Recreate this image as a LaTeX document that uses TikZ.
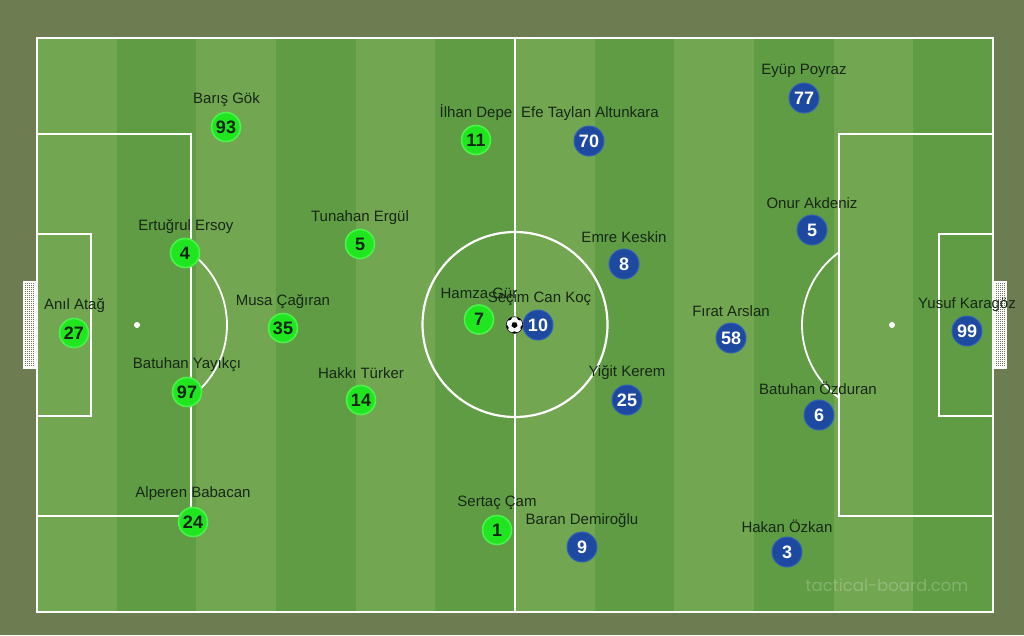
\documentclass[tikz,border=0pt]{standalone}
\usepackage{fontspec}
\setmainfont{Liberation Sans}
\newfontfamily\wmfont{Poppins}
\usetikzlibrary{shapes.geometric}
\definecolor{bgolive}{HTML}{6E7C52}
\definecolor{stripelight}{HTML}{73A651}
\definecolor{stripedark}{HTML}{609C44}
\definecolor{pgreen}{HTML}{1FE61F}
\definecolor{pgreenglow}{HTML}{4CF24C}
\definecolor{pblue}{HTML}{1E49A0}
\definecolor{pblueedge}{HTML}{3460B8}
\definecolor{numdark}{HTML}{142414}
\definecolor{labeltxt}{HTML}{162816}
\tikzset{
  pline/.style={draw=white, line width=2.2pt},
  pgn/.style={circle, fill=pgreen, draw=pgreenglow, line width=1.6pt, minimum size=29pt, inner sep=0pt,
    font=\bfseries\fontsize{18}{18}\selectfont, text=numdark},
  pbl/.style={circle, fill=pblue, draw=pblueedge, line width=1pt, minimum size=30pt, inner sep=0pt,
    font=\bfseries\fontsize{18}{18}\selectfont, text=white},
  lbl/.style={font=\fontsize{15}{15}\selectfont, text=labeltxt, inner sep=0pt},
  pspot/.style={circle, fill=white, minimum size=6pt, inner sep=0pt},
}
\begin{document}
\begin{tikzpicture}[x=1pt,y=-1pt]
\useasboundingbox (0,0) rectangle (1024,635);
\fill[bgolive] (0,0) rectangle (1024,635);
% stripes
\fill[stripelight] (37,38) rectangle (993,612);
\foreach \i in {1,3,5,7,9,11}{
  \fill[stripedark] ({37+79.667*\i},38) rectangle ({37+79.667*(\i+1)},612);
}
% goals
\foreach \gx in {24,995}{
  \begin{scope}
    \clip (\gx,282) rectangle ({\gx+11},368);
    \foreach \k in {0,...,5}{ \draw[white, line width=0.5pt] ({\gx+2*\k},282) -- ({\gx+2*\k},368); }
    \foreach \k in {0,...,43}{ \draw[white, line width=0.5pt] (\gx,{282+2*\k}) -- ({\gx+11},{282+2*\k}); }
  \end{scope}
  \draw[white, line width=1.4pt] (\gx,282) rectangle ({\gx+11},368);
}
% pitch lines
\draw[pline] (37,38) rectangle (993,612);
\draw[pline] (515,38) -- (515,612);
\draw[pline] (515,324.5) circle (92.5);
\draw[pline] (37,134) rectangle (191,516);
\draw[pline] (37,234) rectangle (91,416);
\draw[pline] (839,134) rectangle (993,516);
\draw[pline] (939,234) rectangle (993,416);
\begin{scope}
  \clip (191,0) rectangle (400,635);
  \draw[white, line width=1.8pt] (137,325) circle (90);
\end{scope}
\begin{scope}
  \clip (600,0) rectangle (839,635);
  \draw[white, line width=1.8pt] (892,325) circle (90);
\end{scope}
\node[pspot] (spotL) at (137,325) {};
\node[pspot] (spotR) at (892,325) {};
% watermark
\node[font=\wmfont\fontsize{16.5}{17}\selectfont, text=white, opacity=0.22, inner sep=0pt] (wm) at (887,585) {tactical-board.com};
% green team
\node[lbl] (lg93) at (226.5,100) {Barış Gök};
\node[pgn] (g93) at (226,127) {93};
\node[lbl] (lg11) at (476,113) {İlhan Depe};
\node[pgn] (g11) at (476,140) {11};
\node[lbl] (lg4) at (186,227) {Ertuğrul Ersoy};
\node[pgn] (g4) at (185,253) {4};
\node[lbl] (lg5) at (360,218) {Tunahan Ergül};
\node[pgn] (g5) at (360,244) {5};
\node[lbl] (lg27) at (74.5,306) {Anıl Atağ};
\node[pgn] (g27) at (74,333) {27};
\node[lbl] (lg35) at (283,302) {Musa Çağıran};
\node[pgn] (g35) at (283,328) {35};
\node[lbl] (lg7) at (479,293) {Hamza Gür};
\node[pgn] (g7) at (479,319.5) {7};
\node[lbl] (lg97) at (187,365) {Batuhan Yayıkçı};
\node[pgn] (g97) at (187,392) {97};
\node[lbl] (lg14) at (361,373) {Hakkı Türker};
\node[pgn] (g14) at (361,400) {14};
\node[lbl] (lg24) at (193,494) {Alperen Babacan};
\node[pgn] (g24) at (193,522) {24};
\node[lbl] (lg1) at (497,503) {Sertaç Çam};
\node[pgn] (g1) at (497,530) {1};
% blue team
\node[lbl] (lb77) at (804,71) {Eyüp Poyraz};
\node[pbl] (b77) at (804,98) {77};
\node[lbl] (lb70) at (590,114) {Efe Taylan Altunkara};
\node[pbl] (b70) at (589,141) {70};
\node[lbl] (lb5) at (812,203) {Onur Akdeniz};
\node[pbl] (b5) at (812,230) {5};
\node[lbl] (lb8) at (624,237) {Emre Keskin};
\node[pbl] (b8) at (624,264) {8};
\node[lbl] (lb10) at (539.5,299) {Seçim Can Koç};
\node[pbl] (b10) at (538,325) {10};
\node[lbl] (lb58) at (731,311) {Fırat Arslan};
\node[pbl] (b58) at (731,338) {58};
\node[lbl] (lb99) at (967,305) {Yusuf Karagöz};
\node[pbl] (b99) at (967,331) {99};
\node[lbl] (lb25) at (627,373) {Yiğit Kerem};
\node[pbl] (b25) at (627,400) {25};
\node[lbl] (lb6) at (818,388) {Batuhan Özduran};
\node[pbl] (b6) at (819,415) {6};
\node[lbl] (lb3) at (787,526) {Hakan Özkan};
\node[pbl] (b3) at (787,552) {3};
\node[lbl] (lb9) at (582,521) {Baran Demiroğlu};
\node[pbl] (b9) at (582,547) {9};
% ball
\node[circle, fill=white, minimum size=17pt, inner sep=0pt] (ball) at (514.5,325) {};
\begin{scope}
  \clip (ball.center) circle (8.3);
  \fill[black] (ball.center) ++(90:3.2) -- ++(-36:3.76) -- ++(-108:3.76) -- ++(180:3.76) -- ++(108:3.76) -- cycle;
  \foreach \a in {18,90,162,234,306}{
    \fill[black] (ball.center) ++(\a:9.3) circle (3);
  }
\end{scope}
\draw[black, line width=0.6pt] (ball.center) circle (8.3);
\end{tikzpicture}
\end{document}
